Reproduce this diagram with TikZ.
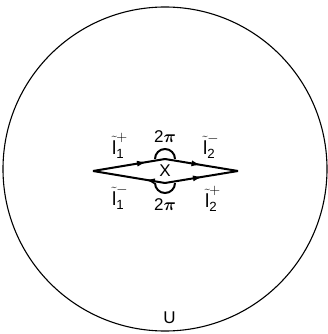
\documentclass[tikz,border=0pt]{standalone}
\usepackage{fontspec}
\setmainfont{Liberation Sans}
\usepackage{amsmath}
\usetikzlibrary{arrows.meta,decorations.markings}
\tikzset{
  edge/.style={line width=2pt},
  midtip/.style={postaction={decorate},decoration={markings,
    mark=at position #1 with {\arrow{Latex[length=10pt,width=6pt]}}}},
  lbl/.style={font=\fontsize{17}{19}\selectfont,inner sep=0pt},
  pathname/.style={font=\fontsize{19}{21}\selectfont,inner sep=0pt}
}
\begin{document}
\begin{tikzpicture}[x=1pt,y=-1pt]
  \useasboundingbox (0,0) rectangle (328,334);
  % outer region
  \node[draw,circle,line width=1.1pt,minimum size=324pt,inner sep=0pt] (disk) at (165,169) {};
  \node[lbl] (U) at (169.5,318) {U};

  % corners of the lens round x
  \coordinate (L) at (93,171);
  \coordinate (T) at (165,159);
  \coordinate (R) at (238,171);
  \coordinate (B) at (165,183);
  \node[lbl] (x) at (165,171) {X};

  % the four paths
  \draw[edge,midtip=0.75] (L) -- (T);
  \draw[edge,midtip=0.5] (T) -- (R);
  \draw[edge,midtip=0.28] (B) -- (L);
  \draw[edge,midtip=0.52] (B) -- (R);

  % small loops, angle 2pi
  \draw[edge] ([xshift=-10pt]T) arc[start angle=180,end angle=0,radius=10pt];
  \draw[edge] ([xshift=-10pt]B) arc[start angle=180,end angle=360,radius=10pt];
  \node[lbl] (up) at (165,137) {2$\boldsymbol{\pi}$};
  \node[lbl] (dn) at (165,205) {2$\boldsymbol{\pi}$};

  % path names
  \node[pathname] (l1p) at (120,146) {$\tilde{\text{l}}^{+}_{\text{1}}$};
  \node[pathname] (l2m) at (211,146) {$\tilde{\text{l}}^{-}_{\text{2}}$};
  \node[pathname] (l1m) at (120,197) {$\tilde{\text{l}}^{-}_{\text{1}}$};
  \node[pathname] (l2p) at (213,199) {$\tilde{\text{l}}^{+}_{\text{2}}$};
\end{tikzpicture}
\end{document}
